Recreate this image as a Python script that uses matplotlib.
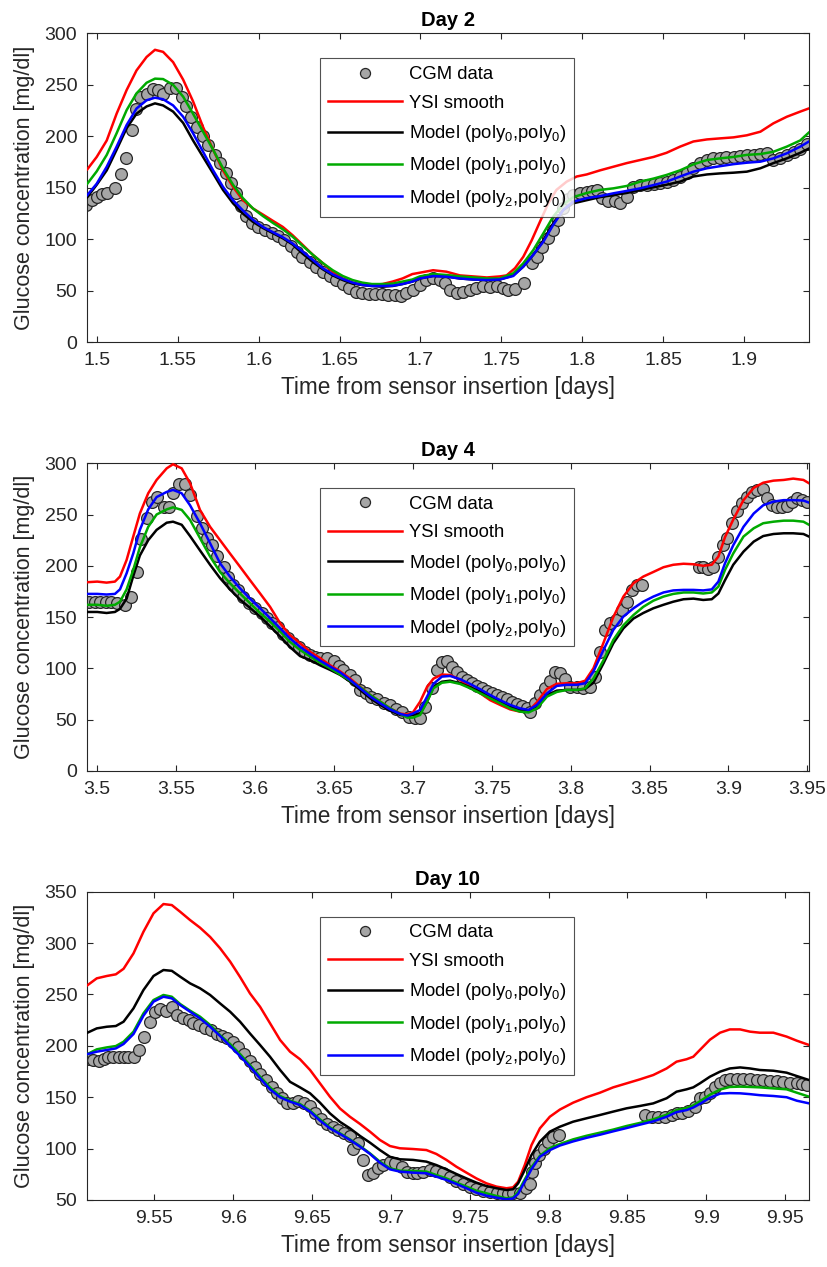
import numpy as np
import matplotlib.pyplot as plt

plt.rcParams['font.family'] = ['Liberation Sans', 'DejaVu Sans']
plt.rcParams['mathtext.default'] = 'regular'

# ---------------- Day 2 ----------------
d2_cgm_t = [1.4934, 1.4969, 1.5, 1.503, 1.5066, 1.5113, 1.5148, 1.518, 1.5216, 1.5242, 1.5267, 1.5308,
            1.5345, 1.538, 1.541, 1.545, 1.549, 1.5524, 1.555, 1.5585, 1.562, 1.5657, 1.5688, 1.5729,
            1.5764, 1.58, 1.583, 1.586, 1.589, 1.5924, 1.596, 1.5996, 1.6037, 1.608, 1.612, 1.616,
            1.62, 1.624, 1.627, 1.6316, 1.6355, 1.6396, 1.644, 1.648, 1.652, 1.656, 1.66, 1.664,
            1.668, 1.672, 1.676, 1.68, 1.684, 1.688, 1.6913, 1.6955, 1.6996, 1.7037, 1.7078, 1.712,
            1.715, 1.718, 1.7223, 1.7264, 1.7305, 1.7346, 1.7388, 1.743, 1.747, 1.7511, 1.7542, 1.7584,
            1.764, 1.7687, 1.772, 1.775, 1.779, 1.782, 1.7852, 1.7882, 1.7913, 1.7944, 1.7986, 1.8027,
            1.8058, 1.8089, 1.812, 1.816, 1.8202, 1.8233, 1.8274, 1.8315, 1.8357, 1.8398, 1.844, 1.848,
            1.852, 1.856, 1.8604, 1.8645, 1.8686, 1.8728, 1.877, 1.881, 1.885, 1.889, 1.8934, 1.8975,
            1.9016, 1.9058, 1.91, 1.914, 1.918, 1.9222, 1.9263, 1.9305, 1.9346, 1.9387]
d2_cgm_v = [133, 138, 141, 144, 145, 150, 163, 179, 206, 227, 238, 241,
            246, 245, 241, 247, 247, 238, 229, 219, 209, 200, 192, 182,
            174, 164, 155, 145, 132, 123, 116, 112, 109, 106, 103, 99,
            93.5, 88, 83, 78, 73.5, 68.6, 64.4, 60.5, 56.6, 52.4, 49, 47.6,
            47, 47, 47, 46, 46, 45, 47.6, 51, 55.7, 60.5, 62, 61,
            58, 51, 48, 49, 51, 53, 55, 54, 55, 53, 51, 52,
            58, 77, 83, 93, 101, 109, 119, 130, 139, 143, 145, 146,
            147, 148, 140, 137, 137, 135, 141, 151, 153, 153, 154, 155,
            156, 158, 161, 164, 169, 174, 177, 179, 179, 180, 180, 181,
            181.5, 182, 183, 183.5, 177, 179, 182, 185, 188, 193]

d2_ysi_t = [1.4942, 1.5, 1.5062, 1.5123, 1.5185, 1.5246, 1.5308, 1.536, 1.541, 1.5472, 1.5534, 1.5595,
            1.5657, 1.5719, 1.578, 1.5842, 1.5903, 1.5965, 1.6027, 1.6088, 1.615, 1.621, 1.6273, 1.6335,
            1.6396, 1.6458, 1.652, 1.658, 1.664, 1.67, 1.6766, 1.6828, 1.6889, 1.6950, 1.6996, 1.7078,
            1.716, 1.7243, 1.7326, 1.741, 1.749, 1.7532, 1.7584, 1.7635, 1.7687, 1.7738, 1.779, 1.784,
            1.7903, 1.7965, 1.8027, 1.811, 1.8192, 1.8274, 1.8357, 1.844, 1.852, 1.8604, 1.8686, 1.877,
            1.885, 1.8934, 1.9016, 1.91, 1.918, 1.9263, 1.9346, 1.9398]
d2_ysi_v = [168, 180, 196, 222, 245, 264, 277, 284, 282, 272, 255, 234,
            209, 187, 167, 151, 138, 130, 124, 118, 112, 104, 94.5, 85,
            77, 68.6, 62, 58, 55.7, 55.7, 56.6, 59, 62, 66.3, 67.6, 70,
            68.6, 65, 64, 63, 64, 65, 72, 83, 99, 117, 135, 148,
            156, 161, 163, 167, 170.5, 174, 177, 180, 184, 190, 195, 197,
            198, 199, 201, 204.5, 212.6, 219, 224, 227]

d2_curve_t = [1.4942, 1.5, 1.5062, 1.5123, 1.5185, 1.5246, 1.5308, 1.536, 1.541, 1.5472, 1.5534, 1.5595,
              1.5657, 1.5719, 1.578, 1.5842, 1.5903, 1.5965, 1.6027, 1.6088, 1.615, 1.621, 1.6273, 1.6335,
              1.6396, 1.6458, 1.652, 1.658, 1.664, 1.67, 1.6766, 1.6828, 1.6889, 1.695, 1.6996, 1.7078,
              1.716, 1.7243, 1.7326, 1.741, 1.749, 1.7573, 1.7635, 1.7697, 1.7759, 1.782, 1.7882, 1.7944,
              1.8027, 1.811, 1.8192, 1.8274, 1.8357, 1.844, 1.852, 1.8604, 1.8686, 1.877, 1.885, 1.8934,
              1.9016, 1.91, 1.918, 1.9263, 1.9346, 1.9398]
d2_m00_v = [141, 153, 167, 187, 208, 222, 229, 232, 230, 224, 213, 196,
            180, 164, 148, 135, 125, 117, 111, 106, 101, 95, 86, 78,
            71, 65, 60.5, 57, 55.7, 54.7, 54, 54.7, 56.6, 59, 62, 64.4,
            64, 62, 61, 61, 61, 65, 73.5, 85, 99, 115.5, 128.5, 135,
            138, 141, 143, 145, 148, 150.5, 153, 156, 161, 163, 164, 164.7,
            165.7, 169, 174, 178.6, 184, 188]
d2_m10_v = [154, 166, 182, 203, 225.5, 241.7, 252, 256, 255.6, 250, 238.5, 222,
            204.5, 187, 169, 153, 140, 130, 122.6, 116, 109.7, 102.6, 93.5, 85,
            77, 70, 64.4, 60.5, 58, 56.6, 56.6, 57, 59, 61, 64, 66.3,
            65.4, 64, 63, 62, 62, 67, 76.7, 89.6, 105.8, 122, 134, 141,
            145, 148, 149.5, 151.8, 156, 159, 162.5, 167, 172.8, 177, 178.6, 180,
            182, 182.8, 185, 190, 196, 203.5]
d2_m20_v = [143, 154, 170.5, 190, 211, 227, 235, 237.5, 236, 230, 219, 203,
            185, 167, 151, 138, 128, 119, 112, 107, 102, 96, 88, 80,
            72, 66, 61.5, 58, 55.7, 54.7, 54.7, 55, 56.6, 59, 62, 64.4,
            63.7, 62, 61, 60.5, 61, 64.4, 73.5, 85, 97.7, 114, 128.5, 136.6,
            140, 142, 144.7, 147, 149.5, 152.7, 156, 161, 165.7, 169, 171, 173,
            174.4, 175.4, 178.6, 183.5, 190, 194.8]

# ---------------- Day 4 ----------------
d4_cgm_t = [3.4949, 3.4985, 3.5017, 3.5055, 3.509, 3.5123, 3.5175, 3.5211, 3.525, 3.528, 3.5313, 3.5345,
            3.538, 3.542, 3.5457, 3.548, 3.552, 3.5556, 3.559, 3.563, 3.5662, 3.5693, 3.573, 3.576,
            3.58, 3.583, 3.5863, 3.5894, 3.5926, 3.5964, 3.6, 3.6042, 3.6074, 3.611, 3.6148, 3.618,
            3.6211, 3.6243, 3.628, 3.6317, 3.635, 3.638, 3.6412, 3.6455, 3.65, 3.6529, 3.656, 3.66,
            3.6634, 3.6666, 3.6704, 3.6734, 3.677, 3.6814, 3.6856, 3.6894, 3.693, 3.6973, 3.7015, 3.7046,
            3.7078, 3.712, 3.7152, 3.7184, 3.7215, 3.7247, 3.7279, 3.731, 3.7342, 3.7374, 3.7405, 3.7437,
            3.7469, 3.75, 3.7532, 3.7564, 3.7595, 3.7627, 3.7659, 3.769, 3.7722, 3.7743, 3.7775, 3.7807,
            3.7838, 3.787, 3.79, 3.7933, 3.7965, 3.7997, 3.8039, 3.808, 3.8123, 3.8155, 3.8187, 3.8218,
            3.825, 3.8288, 3.8324, 3.8355, 3.8387, 3.8419, 3.845,
            3.881, 3.8841, 3.887, 3.8904, 3.8936, 3.8968, 3.899, 3.902, 3.9052, 3.9084, 3.9116, 3.9147,
            3.918, 3.922, 3.9242, 3.9274, 3.9306, 3.9337, 3.9369, 3.94, 3.9432, 3.9464, 3.9496]
d4_cgm_v = [165, 165, 164.5, 164.5, 165, 163.5, 162, 170, 194, 226, 247, 262.6,
            267.5, 257, 257, 270.7, 280, 280, 269, 248.6, 236.6, 227, 220, 209.6,
            199, 189.5, 181, 176.5, 170, 163.5, 158.6, 154, 149, 144, 140.7, 134,
            130, 125, 121, 116, 113, 111.5, 110.5, 110, 107, 102, 98.5, 93.6,
            88.7, 79, 75.7, 72.5, 70, 66.6, 64.4, 60, 57, 53, 52, 52,
            62.7, 80.6, 98, 106.6, 107.6, 101.7, 96, 92, 88.7, 85.5, 82.9, 80.6,
            78.3, 75.7, 74, 72.5, 70, 67.6, 65.3, 63.4, 61, 57, 66, 74,
            80.6, 88, 96.9, 95.9, 90, 82, 82, 80.6, 82, 92, 116, 137.5,
            144, 147, 157, 165, 176.5, 181, 181,
            199, 199, 196.6, 198.6, 209, 220, 227, 242, 253, 261, 267.5, 272,
            274, 274.6, 266, 259, 257, 257, 258, 262.6, 266, 264, 262.6]

d4_curve_t = [3.4937, 3.5, 3.5059, 3.5112, 3.5144, 3.5186, 3.5228, 3.527, 3.5323, 3.5376, 3.544, 3.548,
              3.5535, 3.5588, 3.5651, 3.5715, 3.5778, 3.5841, 3.5905, 3.5968, 3.6032, 3.6095, 3.6159, 3.622,
              3.6285, 3.635, 3.6412, 3.6476, 3.654, 3.6603, 3.6666, 3.673, 3.6793, 3.6856, 3.692, 3.6965,
              3.7, 3.7046, 3.709, 3.713, 3.7184, 3.7236, 3.73, 3.7363, 3.7427, 3.749, 3.7553, 3.7617,
              3.768, 3.7733, 3.7786, 3.785, 3.7912, 3.7975, 3.804, 3.8092, 3.8144, 3.8208, 3.827, 3.8334,
              3.8398, 3.846, 3.8524, 3.8588, 3.865, 3.8715, 3.8778, 3.884, 3.8894, 3.8936, 3.8978, 3.903,
              3.9095, 3.916, 3.922, 3.9285, 3.935, 3.941, 3.9475, 3.951]
d4_ysi_v = [184, 184.6, 183.6, 184.6, 189.5, 205.7, 228.5, 251, 270.7, 283.7, 295, 299,
            295, 280.5, 254.5, 238, 225, 212, 199, 186, 173, 160, 144, 132.6,
            124.5, 116, 110, 103, 97, 90, 82, 74, 67.6, 61, 56, 55,
            57, 67.6, 82, 90, 94, 93.6, 88.7, 82, 75.7, 69, 64.4, 60,
            57.8, 58.5, 67, 80, 85, 85.5, 85.5, 88, 100, 125, 150, 170,
            183, 189.5, 194, 198.6, 201, 202, 201.5, 200, 201, 209, 228, 245,
            264, 276, 281, 283, 283.7, 285, 283.7, 280.5]
d4_m00_v = [155, 155, 154, 155, 158, 168, 190, 210, 225, 235, 242, 243,
            240, 229, 215, 201, 188, 177, 167, 159, 150.5, 141, 131, 121,
            112, 108, 103, 98.5, 93.6, 87, 79, 70.8, 64.4, 58.8, 54.6, 53.6,
            54.6, 56, 67.6, 82, 87, 88, 85.5, 81.6, 77.4, 72.5, 67.6, 62.7,
            59.5, 58.5, 62.7, 74, 78.3, 79, 79, 80, 86, 105, 124.5, 139,
            148.6, 154, 158.6, 162, 165, 167.4, 168, 166.7, 167.4, 173, 186, 201,
            213.8, 223.6, 229, 231, 231.7, 231.7, 231, 228.5]
d4_m10_v = [162, 162, 161, 162, 165, 177, 196, 218, 238, 250, 255, 257,
            254.5, 244.7, 227, 209, 194, 183, 173, 163.5, 154, 145.6, 136, 126,
            118, 111.5, 105.6, 100, 94, 88, 81.6, 74, 67.6, 61, 55.6, 52,
            52, 54.6, 67.6, 80.6, 86, 87, 84.8, 80.6, 75.7, 70.8, 66, 61,
            57.8, 57, 61, 72.5, 77, 79, 79, 80.6, 90, 108, 127.7, 142,
            152, 160, 166, 170, 172.6, 174, 174, 173, 174, 179.7, 196, 212,
            228.5, 236.6, 241.5, 243, 244, 244, 243, 240]
d4_m20_v = [172.6, 172.6, 172, 172.6, 177, 192.7, 212, 235, 255, 267, 272, 274,
            270.7, 259, 241.5, 222, 202.5, 189.5, 178, 168, 158.6, 149, 139, 129.4,
            121, 114, 107.6, 101.7, 96, 88.7, 80.6, 72.5, 66, 60, 55.6, 54,
            56, 59.5, 72.5, 84.8, 92, 92.6, 89.4, 84.8, 79.6, 74, 69, 64.4,
            61, 59.5, 64.4, 75.7, 82.9, 84, 84, 85.5, 96.9, 118, 137.5, 150.5,
            158.6, 165, 170, 174, 176, 176.5, 176.5, 176, 177, 184.6, 202.5, 220,
            238, 251, 259, 262.6, 264, 264, 263.6, 261.6]

# ---------------- Day 10 ----------------
d10_cgm_t = [9.5082, 9.5113, 9.5145, 9.5177, 9.5208, 9.524, 9.5272, 9.5304, 9.5335, 9.5367, 9.5405, 9.5435,
             9.5473, 9.5504, 9.5536, 9.557, 9.561, 9.5642, 9.568, 9.5716, 9.5747, 9.5785, 9.582, 9.5857,
             9.5895, 9.5927, 9.5958, 9.5996, 9.6032, 9.6068, 9.6106, 9.6138, 9.617, 9.6208, 9.6244, 9.6275,
             9.6307, 9.6339, 9.6377, 9.6412, 9.6449, 9.6486, 9.6518, 9.6554, 9.6592, 9.663, 9.6666, 9.6702,
             9.6740, 9.6757, 9.6793, 9.6825, 9.6856, 9.6888, 9.692, 9.6951, 9.6994, 9.7025, 9.7068, 9.71,
             9.714, 9.7163, 9.7204, 9.7246, 9.7288, 9.733, 9.7373, 9.7415, 9.7458, 9.75, 9.7542, 9.7585,
             9.7627, 9.767, 9.7712, 9.7743, 9.7775, 9.7818, 9.7856, 9.788, 9.7892, 9.7913, 9.794, 9.797,
             9.7997, 9.803, 9.8067,
             9.8611, 9.8654, 9.8696, 9.8738, 9.878, 9.8812, 9.8844, 9.8887, 9.8929, 9.896, 9.8992, 9.9024,
             9.9056, 9.9088, 9.912, 9.9151, 9.9193, 9.9236, 9.9278, 9.932, 9.9363, 9.9405, 9.9447, 9.949,
             9.9532, 9.9575, 9.9606, 9.9638]
d10_cgm_v = [186.9, 186, 185.6, 186.9, 188.8, 189.5, 189.5, 188.8, 188.8, 189.5, 196, 209,
             223.5, 233, 235.5, 234, 237.4, 230, 226.7, 225, 222.5, 220, 217.7, 215.4,
             212, 209.6, 207.3, 204, 199, 192, 185.6, 179.7, 173, 166.7, 160, 154.4,
             149, 144.7, 144.7, 146.6, 144.7, 141.5, 134.3, 128.5, 124, 120.7, 118, 115,
             112, 100, 105, 89, 74.3, 76.6, 81, 84, 87, 85.7, 82.4, 77.6,
             76.6, 76.6, 77.6, 79, 78.5, 76, 72.7, 68.8, 65.6, 63, 60.4, 59,
             58, 57, 56.5, 55.8, 56.5, 57, 61.3, 66, 77.6, 85.7, 93.8, 100,
             106.7, 111, 113,
             132.7, 131, 131, 131, 132.7, 134.3, 135, 137, 140.8, 149, 150.5, 153.8,
             159.6, 163.5, 166.7, 167.4, 167.4, 167.4, 167.4, 166.7, 166.7, 166, 166, 165,
             164, 163.5, 162.9, 162]

d10_curve_t = [9.5075, 9.5134, 9.5198, 9.5255, 9.5304, 9.5367, 9.543, 9.5494, 9.5557, 9.561, 9.5663, 9.5726,
               9.5789, 9.5853, 9.5916, 9.598, 9.6043, 9.6106, 9.617, 9.6233, 9.6297, 9.636, 9.6423, 9.6487,
               9.655, 9.6613, 9.6677, 9.674, 9.6804, 9.6867, 9.693, 9.6994, 9.7057, 9.714, 9.7225, 9.7288,
               9.7352, 9.7415, 9.7479, 9.7542, 9.7606, 9.767, 9.7733, 9.7775, 9.7807, 9.7849, 9.7892, 9.7945,
               9.8008, 9.8072, 9.8156, 9.8241, 9.8326, 9.841, 9.8495, 9.858, 9.8664, 9.8749, 9.8812, 9.8876,
               9.8918, 9.896, 9.9024, 9.9088, 9.915, 9.9215, 9.9278, 9.934, 9.9426, 9.951, 9.9575, 9.9653]
d10_ysi_v = [259, 265.7, 268, 269.6, 275, 290, 311, 329, 338, 337, 330.5, 322.4,
             315, 306, 295, 282, 267, 251, 238, 222, 205.7, 194.3, 187, 176.5,
             163.5, 150.5, 139, 131, 124, 116.5, 108.4, 102.5, 100.3, 99.6, 98.6, 94.8,
             89, 82.4, 76.6, 71, 66.2, 63, 61.4, 62.3, 67.8, 84, 103.5, 119.7,
             131, 138, 144.7, 150, 154.4, 159.6, 163.5, 167.4, 171.6, 178, 184.6, 187,
             189.4, 196, 206, 212.8, 216, 216, 213.8, 212.8, 212.8, 209, 205, 200.8]
d10_m00_v = [212.8, 217, 218.6, 219.3, 223.5, 236.5, 254.3, 268, 273.8, 273, 267.3, 260.8,
             256, 249.5, 241.3, 233.2, 223.5, 212, 200.8, 189.4, 176.5, 165, 159.6, 153.8,
             144.7, 134.3, 126, 119.7, 112.3, 105.8, 98.6, 92, 89.6, 89, 87.3, 84,
             79.8, 75.3, 71, 66.9, 63.6, 61.4, 59.7, 60.4, 66.2, 79.2, 93.8, 106.8,
             116.5, 121.3, 126.2, 129.5, 132.7, 136, 139.2, 141.5, 144, 149, 155.4, 157.7,
             159.6, 163.5, 170, 174.9, 178, 179, 178, 176.5, 175.8, 173.9, 170.6, 166.7]
d10_m10_v = [192, 196.6, 198.5, 199.8, 204, 213.8, 231.6, 244.6, 249.5, 247.8, 240.7, 234.2,
             228.4, 220.3, 210.5, 201.8, 192, 181.3, 170, 159.6, 151.2, 146.6, 143.4, 137,
             128.5, 120.7, 114.9, 109, 102.5, 95.4, 87.3, 80.8, 78.5, 78.2, 77.6, 74.3,
             71, 66.9, 63, 59, 56.5, 53.9, 51.6, 52.5, 58, 70, 82, 93,
             100.5, 104.5, 109, 112.5, 115.5, 118.5, 122, 125, 128.5, 133, 137.5, 139.5,
             142, 146, 152.5, 157.5, 160, 160.3, 160, 159.6, 158.6, 157.7, 154.4, 150.5]
d10_m20_v = [192, 194.3, 196, 197.5, 201.8, 211.5, 229.3, 243, 247.8, 246.2, 239.7, 233.2,
             226.7, 218.6, 209.6, 199.8, 190, 179.7, 168.4, 157.7, 149.9, 145.7, 142.4, 136,
             127.2, 119.7, 114.2, 108.4, 101.9, 94.8, 86.3, 79.8, 77.6, 76.6, 76, 72.7,
             69.5, 65.6, 61.4, 57.1, 54.2, 52.3, 50.6, 51.5, 56, 68, 80, 92,
             98.5, 103, 107, 110.5, 113.5, 116.8, 120, 123.3, 126.5, 131, 135.5, 137.5,
             140, 143.5, 149.5, 153.5, 154, 153.8, 153, 152, 151.2, 150, 146.6, 144]

panels = [
    dict(title='Day 2', xlim=(1.494, 1.940), ylim=(0, 300),
         xticks=[1.5, 1.55, 1.6, 1.65, 1.7, 1.75, 1.8, 1.85, 1.9],
         cgm=(d2_cgm_t, d2_cgm_v), ysi=(d2_ysi_t, d2_ysi_v), ct=d2_curve_t,
         m00=d2_m00_v, m10=d2_m10_v, m20=d2_m20_v, rect=[0.1052, 0.7298, 0.873, 0.2439]),
    dict(title='Day 4', xlim=(3.4935, 3.951), ylim=(0, 300),
         xticks=[3.5, 3.55, 3.6, 3.65, 3.7, 3.75, 3.8, 3.85, 3.9, 3.95],
         cgm=(d4_cgm_t, d4_cgm_v), ysi=(d4_curve_t, d4_ysi_v), ct=d4_curve_t,
         m00=d4_m00_v, m10=d4_m10_v, m20=d4_m20_v, rect=[0.1052, 0.3915, 0.873, 0.2429]),
    dict(title='Day 10', xlim=(9.5072, 9.9652), ylim=(50, 350),
         xticks=[9.55, 9.6, 9.65, 9.7, 9.75, 9.8, 9.85, 9.9, 9.95],
         cgm=(d10_cgm_t, d10_cgm_v), ysi=(d10_curve_t, d10_ysi_v), ct=d10_curve_t,
         m00=d10_m00_v, m10=d10_m10_v, m20=d10_m20_v, rect=[0.1052, 0.0529, 0.873, 0.2433]),
]

fig = plt.figure(figsize=(8.27, 12.67), dpi=100)
axc = '#262626'

for p in panels:
    ax = fig.add_axes(p['rect'])
    ax.plot(p['cgm'][0], p['cgm'][1], 'o', ms=8.5, mfc='#a6a6a6', mec='#262626', mew=0.9,
            label='CGM data', zorder=2)
    ax.plot(p['ysi'][0], p['ysi'][1], color='#ff0000', lw=1.8, label='YSI smooth', zorder=3)
    ax.plot(p['ct'], p['m00'], color='#000000', lw=1.8, label='Model (poly$_0$,poly$_0$)', zorder=3)
    ax.plot(p['ct'], p['m10'], color='#00aa00', lw=1.8, label='Model (poly$_1$,poly$_0$)', zorder=3)
    ax.plot(p['ct'], p['m20'], color='#0000ff', lw=1.8, label='Model (poly$_2$,poly$_0$)', zorder=3)

    ax.set_xlim(*p['xlim'])
    ax.set_ylim(*p['ylim'])
    ax.set_xticks(p['xticks'])
    ax.set_xticklabels(['%g' % x for x in p['xticks']])
    ax.set_yticks(np.arange(p['ylim'][0], p['ylim'][1] + 1, 50))
    ax.tick_params(direction='in', top=True, right=True, length=4, width=0.8,
                   labelsize=14, colors=axc, pad=7)
    for s in ax.spines.values():
        s.set_color(axc)
        s.set_linewidth(0.8)
    ax.set_title(p['title'], fontsize=14.5, fontweight='bold', pad=5)
    ax.set_xlabel('Time from sensor insertion [days]', fontsize=16.3, color=axc, labelpad=5)
    ax.set_ylabel('Glucose concentration [mg/dl]', fontsize=15.5, color=axc, labelpad=7)

    leg = ax.legend(loc='upper left', bbox_to_anchor=(0.3227, 0.919), borderaxespad=0,
                    fontsize=13.3, frameon=True, fancybox=False, edgecolor=axc,
                    handlelength=4.0, handletextpad=0.4, borderpad=0.42, labelspacing=0.62,
                    markerscale=0.85)
    leg.get_frame().set_linewidth(0.8)

fig.savefig('out.png', dpi=100)
